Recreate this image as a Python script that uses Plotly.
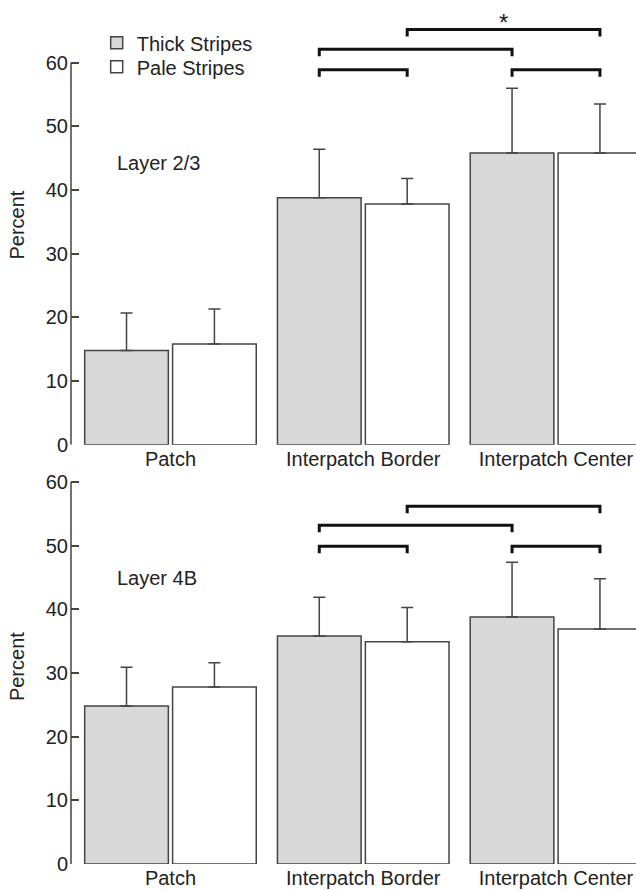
import plotly.graph_objects as go

# ---------------- data ----------------
categories = ["Patch", "Interpatch Border", "Interpatch Center"]
series_names = ["Thick Stripes", "Pale Stripes"]

thick_l23 = [14.8, 38.8, 45.8]
thick_l23_err = [5.9, 7.6, 10.2]
pale_l23 = [15.8, 37.8, 45.8]
pale_l23_err = [5.5, 4.0, 7.7]

thick_l4b = [24.8, 35.8, 38.8]
thick_l4b_err = [6.1, 6.1, 8.6]
pale_l4b = [27.8, 34.9, 36.9]
pale_l4b_err = [3.8, 5.4, 7.9]

panel_labels = ["Layer 2/3", "Layer 4B"]
y_tick_vals = [0, 10, 20, 30, 40, 50, 60]

# comparison brackets: (category, series) -> (category, series), level, label
brackets_l23 = [
    (("Interpatch Border", 0), ("Interpatch Border", 1), 58.9, ""),
    (("Interpatch Center", 0), ("Interpatch Center", 1), 58.9, ""),
    (("Interpatch Border", 0), ("Interpatch Center", 0), 62.1, ""),
    (("Interpatch Border", 1), ("Interpatch Center", 1), 65.2, "*"),
]
brackets_l4b = [
    (("Interpatch Border", 0), ("Interpatch Border", 1), 49.9, ""),
    (("Interpatch Center", 0), ("Interpatch Center", 1), 49.9, ""),
    (("Interpatch Border", 0), ("Interpatch Center", 0), 53.2, ""),
    (("Interpatch Border", 1), ("Interpatch Center", 1), 56.2, ""),
]

# ---------------- style ----------------
FONT = "Liberation Sans, Arial, sans-serif"
INK = "#222222"
EDGE = "#444444"
FILLS = ["#d9d9d9", "#ffffff"]
OFFSETS = [-0.445, 0.011]
BAR_W = 0.434
BRACKET_DROP = 1.1

W, H = 636, 890
PX_PER_UNIT = 6.367
top_zero_px, bot_zero_px = 444.7, 864.0
top_range, bot_range = [0, 69], [0, 62]


def dom(zero_px, rng):
    top_px = zero_px - (rng[1] - rng[0]) * PX_PER_UNIT
    return [1 - zero_px / H, 1 - top_px / H]


fig = go.Figure()

legend_ids = ["legend", "legend2"]
panels = [
    ("x", "y", thick_l23, thick_l23_err, pale_l23, pale_l23_err, True),
    ("x2", "y2", thick_l4b, thick_l4b_err, pale_l4b, pale_l4b_err, False),
]
for xa, ya, tv, te, pv, pe, show in panels:
    for k, (vals, errs) in enumerate([(tv, te), (pv, pe)]):
        fig.add_trace(go.Bar(
            x=categories, y=vals, name=series_names[k],
            xaxis=xa, yaxis=ya, showlegend=show, legend=legend_ids[k],
            legendgroup=series_names[k],
            offset=OFFSETS[k], width=BAR_W,
            marker=dict(color=FILLS[k], line=dict(color=EDGE, width=1.5)),
            error_y=dict(type="data", array=errs, arrayminus=[0] * len(errs),
                         symmetric=False, color=EDGE, thickness=1.5, width=6),
        ))

x_range = [-0.516, 2.415]
x_dom = [71 / W, 1.0]

tickfont = dict(size=20, color=INK, family=FONT)
axis_common = dict(showgrid=False, zeroline=False, automargin=False)
xcommon = dict(domain=x_dom, range=x_range, showline=False, ticks="",
               tickfont=tickfont, **axis_common)
ycommon = dict(tickvals=y_tick_vals, ticks="inside", ticklen=8, tickwidth=1.5,
               tickcolor=EDGE, showline=False, tickfont=tickfont,
               ticklabelstandoff=2,
               title=dict(text="Percent", font=dict(size=20, color=INK, family=FONT)),
               **axis_common)
fig.update_layout(
    xaxis=dict(anchor="y", **xcommon),
    xaxis2=dict(anchor="y2", **xcommon),
    yaxis=dict(domain=dom(top_zero_px, top_range), range=top_range, anchor="x", **ycommon),
    yaxis2=dict(domain=dom(bot_zero_px, bot_range), range=bot_range, anchor="x2", **ycommon),
)

# y axis lines only from 0 to 60
for ya, xa in [("y", "x"), ("y2", "x2")]:
    fig.add_shape(type="line", xref=f"{xa} domain", yref=ya, x0=0, x1=0,
                  y0=y_tick_vals[0], y1=y_tick_vals[-1],
                  line=dict(color=EDGE, width=1.5))


def bar_center(cat, k):
    return categories.index(cat) + OFFSETS[k] + BAR_W / 2


for xa, ya, brs in [("x", "y", brackets_l23), ("x2", "y2", brackets_l4b)]:
    for (c0, k0), (c1, k1), lvl, lab in brs:
        xa0, xa1 = bar_center(c0, k0), bar_center(c1, k1)
        path = (f"M {xa0} {lvl - BRACKET_DROP} L {xa0} {lvl} "
                f"L {xa1} {lvl} L {xa1} {lvl - BRACKET_DROP}")
        fig.add_shape(type="path", xref=xa, yref=ya, path=path,
                      line=dict(color="#111111", width=3))
        if lab:
            fig.add_annotation(x=(xa0 + xa1) / 2, y=lvl, xref=xa, yref=ya,
                               text=lab, showarrow=False, yanchor="bottom", yshift=-8,
                               font=dict(size=24, color=INK, family=FONT))

for (xa, ya, ly), lab in zip([("x", "y", 44.2), ("x2", "y2", 44.9)], panel_labels):
    fig.add_annotation(x=-0.288, y=ly, xref=xa, yref=ya, text=lab, showarrow=False,
                       xanchor="left", yanchor="middle",
                       font=dict(size=20, color=INK, family=FONT))

legend_common = dict(xanchor="left", yanchor="middle", bgcolor="rgba(0,0,0,0)",
                     font=dict(size=20, color=INK, family=FONT))
fig.update_layout(
    width=W, height=H,
    margin=dict(l=0, r=0, t=0, b=0),
    paper_bgcolor="white", plot_bgcolor="white",
    font=dict(family=FONT, size=20, color=INK),
    legend=dict(x=0.152, y=1 - 42.7 / H, **legend_common),
    legend2=dict(x=0.152, y=1 - 66.7 / H, **legend_common),
)

fig.write_html("out.html", config={"displayModeBar": False},
               post_script="document.body.style.margin='0px';")
